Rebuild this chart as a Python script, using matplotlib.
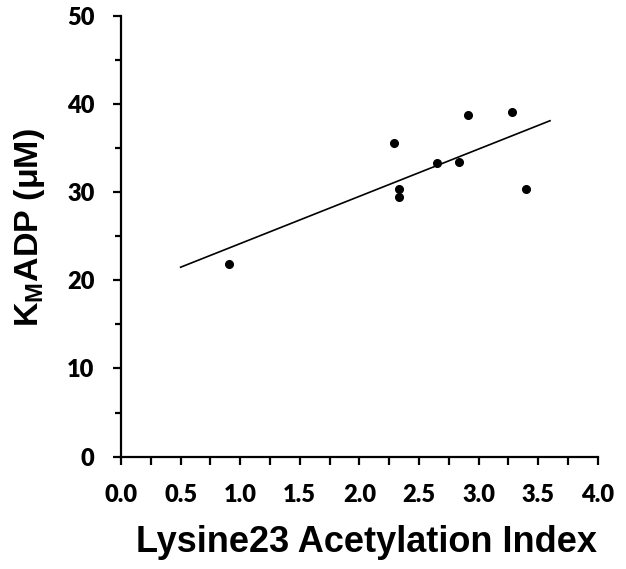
import numpy as np
import matplotlib
matplotlib.use("Agg")
from matplotlib import pyplot as plt
from matplotlib.ticker import MultipleLocator

plt.rcParams["mathtext.fontset"] = "custom"
plt.rcParams["mathtext.rm"] = "Liberation Sans:bold"
plt.rcParams["mathtext.bf"] = "Liberation Sans:bold"
plt.rcParams["mathtext.it"] = "Liberation Sans:bold"

# ----------------------------------------------------------------------------
# Data
# ----------------------------------------------------------------------------
acetylation_index = [0.91, 2.29, 2.335, 2.335, 2.65, 2.84, 2.91, 3.28, 3.40]
km_adp_uM         = [21.9, 35.6, 30.4, 29.5, 33.3, 33.4, 38.7, 39.1, 30.3]
fit_range         = [0.5, 3.6]   # extent of the trendline

x_ticks = [0.0, 0.5, 1.0, 1.5, 2.0, 2.5, 3.0, 3.5, 4.0]
y_ticks = [0, 10, 20, 30, 40, 50]

# linear trendline
slope, intercept = np.polyfit(acetylation_index, km_adp_uM, 1)
fit_x = np.array(fit_range)
fit_y = slope * fit_x + intercept

# ----------------------------------------------------------------------------
# Plot
# ----------------------------------------------------------------------------
fig = plt.figure(figsize=(6.26, 5.69), dpi=100)
ax = fig.add_axes([0.1933, 0.1974, 0.7615, 0.775])

ax.plot(fit_x, fit_y, color="black", linewidth=1.2)
ax.plot(acetylation_index, km_adp_uM, "o", color="black", markersize=5.5)

ax.set_xlim(0, 4)
ax.set_ylim(0, 50)
ax.set_xticks(x_ticks)
ax.set_xticklabels([f"{v:.1f}" for v in x_ticks])
ax.set_yticks(y_ticks)
ax.xaxis.set_minor_locator(MultipleLocator(0.25))
ax.yaxis.set_minor_locator(MultipleLocator(5))

for side in ("top", "right"):
    ax.spines[side].set_visible(False)
for side in ("left", "bottom"):
    ax.spines[side].set_linewidth(1.6)

ax.tick_params(axis="both", which="both", direction="out", width=1.6, color="black")
ax.tick_params(axis="x", which="major", length=6, pad=14)
ax.tick_params(axis="x", which="minor", length=6)
ax.tick_params(axis="y", which="major", length=6, pad=13)
ax.tick_params(axis="y", which="minor", length=4)

for lbl in ax.get_xticklabels() + ax.get_yticklabels():
    lbl.set_fontfamily("Lato")
    lbl.set_fontweight("heavy")
    lbl.set_fontsize(17)

ax.set_xlabel("Lysine23 Acetylation Index", fontfamily="Liberation Sans",
              fontweight="bold", fontsize=26)
ax.set_ylabel(r"K$_{\mathrm{M}}$ADP ($\mu$M)", fontfamily="Liberation Sans",
              fontweight="bold", fontsize=24.5)
ax.xaxis.set_label_coords(0.515, -0.155)
ax.yaxis.set_label_coords(-0.155, 0.52)

fig.savefig("out.png", dpi=100)
